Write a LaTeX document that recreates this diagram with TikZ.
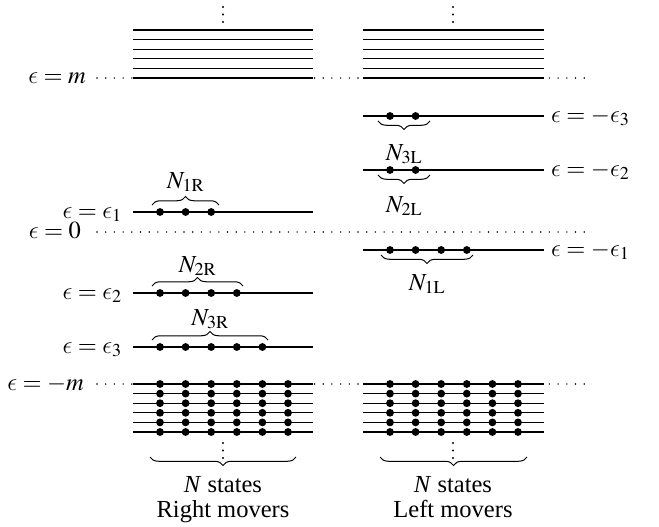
\documentclass[tikz,border=0pt]{standalone}
\IfFileExists{mathptmx.sty}{\usepackage{mathptmx}}{}
\usepackage[no-math]{fontspec}
\setmainfont{Liberation Serif}
\DeclareSymbolFont{cmletters}{OML}{cmm}{m}{it}
\DeclareMathSymbol{\lun}{\mathord}{cmletters}{"0F}
\usetikzlibrary{decorations.pathreplacing}
\begin{document}
\begin{tikzpicture}[x=1pt,y=-1pt,
  lvl/.style={line width=1.1pt},
  dotline/.style={line width=1.6pt, line cap=round, dash pattern=on 0pt off 8.7pt},
  state/.style={circle, fill, inner sep=0pt, minimum size=7.8pt},
  tinydot/.style={circle, fill, inner sep=0pt, minimum size=2.2pt},
  lbl/.style={inner sep=0pt, font=\fontsize{24.5}{29}\selectfont},
  brc/.style={decorate, decoration={brace, amplitude=8.5pt}, line width=1pt},
  brcm/.style={decorate, decoration={brace, amplitude=8.5pt, mirror}, line width=1pt}]
\useasboundingbox (0,0) rectangle (659,527);

% dotted reference lines
\coordinate (mL) at (97,78);   \coordinate (mR) at (590,78);
\coordinate (zL) at (97,232);  \coordinate (zR) at (590,232);
\coordinate (nL) at (97,384);  \coordinate (nR) at (590,384);
\draw[dotline] (mL) -- (mR);
\draw[dotline] (zL) -- (zR);
\draw[dotline] (nL) -- (nR);

% upper continuum
\foreach \i in {0,...,5} {
  \draw[lvl] (133,30+9.6*\i) -- (313,30+9.6*\i);
  \draw[lvl] (363,30+9.6*\i) -- (544,30+9.6*\i);
}
\foreach \y in {7,14.5,22} {
  \node[tinydot] at (223,\y) {};
  \node[tinydot] at (453,\y) {};
}

% lower filled continuum
\foreach \i in {0,...,5} {
  \draw[lvl] (133,384+9.6*\i) -- (313,384+9.6*\i);
  \draw[lvl] (363,384+9.6*\i) -- (544,384+9.6*\i);
  \foreach \k in {0,...,5} {
    \node[state] at (160+25.6*\k,384+9.6*\i) {};
    \node[state] at (390+25.6*\k,384+9.6*\i) {};
  }
}
\foreach \y in {443,450.5,458} {
  \node[tinydot] at (223,\y) {};
  \node[tinydot] at (453,\y) {};
}
\draw[brcm] (150,457) -- (296,457);
\draw[brcm] (380,457) -- (527,457);
\node[lbl, anchor=base] (nsR) at (223,492) {\textit{N} states};
\node[lbl, anchor=base] (rm) at (223,517) {Right movers};
\node[lbl, anchor=base] (nsL) at (453,492) {\textit{N} states};
\node[lbl, anchor=base] (lm) at (453,517) {Left movers};

% right movers levels
\draw[lvl] (133,212) -- (313,212);
\foreach \k in {0,...,2} \node[state] at (160+25.6*\k,212) {};
\draw[brc] (152,205) -- (219,205);
\node[lbl, anchor=base] (N1R) at (185.5,188) {$N_{1\mathrm{R}}$};

\draw[lvl] (133,293) -- (313,293);
\foreach \k in {0,...,3} \node[state] at (160+25.6*\k,293) {};
\draw[brc] (152,286) -- (243,286);
\node[lbl, anchor=base] (N2R) at (197.5,272) {$N_{2\mathrm{R}}$};

\draw[lvl] (133,347) -- (313,347);
\foreach \k in {0,...,4} \node[state] at (160+25.6*\k,347) {};
\draw[brc] (152,340) -- (268,340);
\node[lbl, anchor=base] (N3R) at (210,325) {$N_{3\mathrm{R}}$};

% left movers levels
\draw[lvl] (363,116) -- (544,116);
\foreach \k in {0,...,1} \node[state] at (390+25.6*\k,116) {};
\draw[brcm] (378,121) -- (430,121);
\node[lbl, anchor=base] (N3L) at (404,160) {$N_{3\mathrm{L}}$};

\draw[lvl] (363,170) -- (544,170);
\foreach \k in {0,...,1} \node[state] at (390+25.6*\k,170) {};
\draw[brcm] (378,175) -- (430,175);
\node[lbl, anchor=base] (N2L) at (404,212) {$N_{2\mathrm{L}}$};

\draw[lvl] (363,250) -- (544,250);
\foreach \k in {0,...,3} \node[state] at (390+25.6*\k,250) {};
\draw[brcm] (381,255) -- (473,255);
\node[lbl, anchor=base] (N1L) at (427,290) {$N_{1\mathrm{L}}$};

% labels left
\node[lbl, anchor=base east] (lm1) at (86,84) {$\lun = m$};
\node[lbl, anchor=base east] (l1) at (122,218) {$\lun = \lun_1$};
\node[lbl, anchor=base east] (l0) at (81,238) {$\lun = 0$};
\node[lbl, anchor=base east] (l2) at (122,299) {$\lun = \lun_2$};
\node[lbl, anchor=base east] (l3) at (122,353) {$\lun = \lun_3$};
\node[lbl, anchor=base east] (lmm) at (84,390) {$\lun = -m$};

% labels right
\node[lbl, anchor=base west] (r3) at (551,122) {$\lun = -\lun_3$};
\node[lbl, anchor=base west] (r2) at (551,176) {$\lun = -\lun_2$};
\node[lbl, anchor=base west] (r1) at (551,256) {$\lun = -\lun_1$};
\end{tikzpicture}
\end{document}
